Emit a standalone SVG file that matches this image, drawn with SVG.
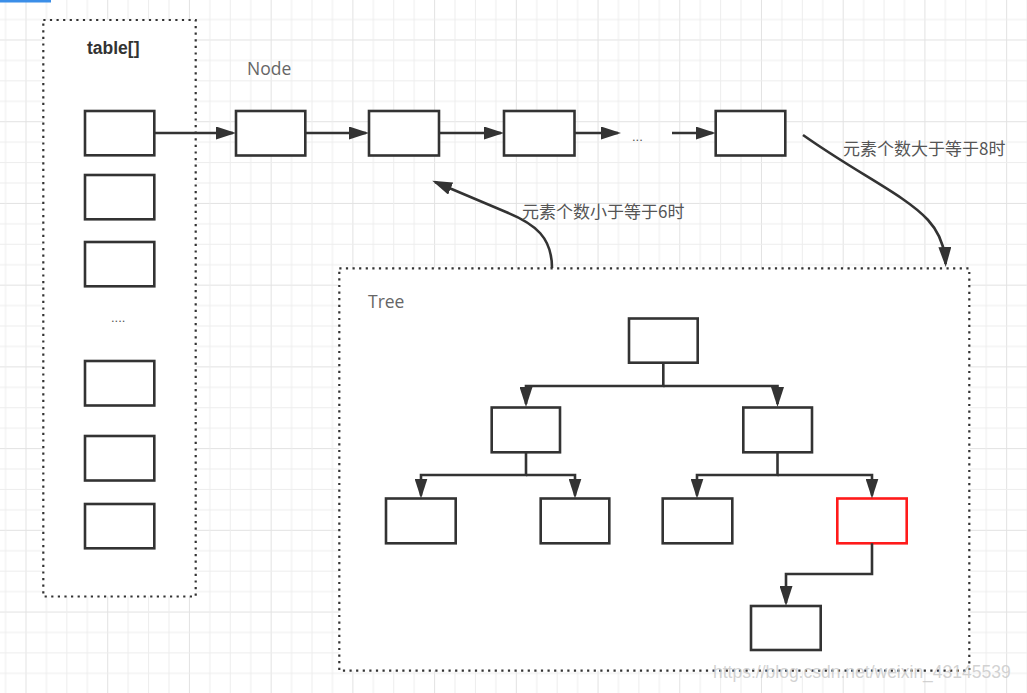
<svg xmlns="http://www.w3.org/2000/svg" width="1027" height="693" viewBox="0 0 1027 693">
  <defs>
    <pattern id="grid" patternUnits="userSpaceOnUse" x="25.5" y="39.5" width="81.72" height="81.72">
      <path d="M0.5,0 V81.72 M0,0.5 H81.72" stroke="#e2e2e2" stroke-width="1" fill="none"/>
      <path d="M20.93,0 V81.72 M41.36,0 V81.72 M61.79,0 V81.72 M0,20.93 H81.72 M0,41.36 H81.72 M0,61.79 H81.72" stroke="#ededed" stroke-width="1" fill="none"/>
    </pattern>
    <marker id="ah" markerUnits="userSpaceOnUse" markerWidth="21" markerHeight="13" refX="17" refY="6.5" orient="auto">
      <path d="M0,0 L20,6.5 L0,13 Z" fill="#333"/>
    </marker>
    <style>
      .box { fill: #fff; stroke: #333; stroke-width: 2.6; }
      .red { fill: #fff; stroke: #ff1a1a; stroke-width: 2.6; }
      .group { fill: #fff; stroke: #333; stroke-width: 2.2; stroke-dasharray: 2.2 4.4; }
      .conn { fill: none; stroke: #333; stroke-width: 2.6; marker-end: url(#ah); }
      .plain { fill: none; stroke: #333; stroke-width: 2.6; }
      .lbl { font-family: "Open Sans", "Noto Sans CJK SC", sans-serif; fill: #666; font-size: 17.5px; }
      .cjk { font-family: "Noto Sans CJK SC", sans-serif; fill: #555; font-size: 17px; }
      .dots { font-family: "Liberation Sans", sans-serif; fill: #555; font-size: 13px; }
    </style>
  </defs>

  <rect x="0" y="0" width="1027" height="693" fill="#fff"/>
  <rect x="0" y="0" width="1027" height="693" fill="url(#grid)"/>
  <rect x="0" y="0" width="51" height="2.5" fill="#3b8ee8"/>

  <g id="table-group">
    <rect class="group" x="43.3" y="20" width="152.4" height="576.5"/>
    <text x="87" y="54" font-family="Liberation Sans, sans-serif" font-weight="bold" font-size="17.5" fill="#333">table[]</text>
    <text class="dots" x="111" y="322">....</text>
  </g>
  <g id="table-0"><rect class="box" x="85" y="111" width="69.3" height="44.3"/></g>
  <g id="table-1"><rect class="box" x="85" y="175" width="69.3" height="44.3"/></g>
  <g id="table-2"><rect class="box" x="85" y="242" width="69.3" height="44.3"/></g>
  <g id="table-3"><rect class="box" x="85" y="361" width="69.3" height="44.5"/></g>
  <g id="table-4"><rect class="box" x="85" y="436" width="69.3" height="44.5"/></g>
  <g id="table-5"><rect class="box" x="85" y="504" width="69.3" height="44.3"/></g>

  <g id="node-label"><text class="lbl" x="247" y="75">Node</text></g>
  <g id="node-1"><rect class="box" x="236" y="111" width="69.3" height="44.5"/></g>
  <g id="node-2"><rect class="box" x="369" y="111" width="70" height="44.5"/></g>
  <g id="node-3"><rect class="box" x="504" y="111" width="70.5" height="44.5"/></g>
  <g id="node-ellipsis"><text class="dots" x="632" y="141">...</text></g>
  <g id="node-n"><rect class="box" x="715.7" y="111" width="69.6" height="44.5"/></g>

  <g id="tree-group">
    <rect class="group" x="339.3" y="268.3" width="630" height="402.4"/>
    <text class="lbl" x="368" y="308">Tree</text>
  </g>
  <g id="tree-root"><rect class="box" x="629" y="318.5" width="68.7" height="44.2"/></g>
  <g id="tree-l"><rect class="box" x="491.7" y="407.5" width="68.3" height="44.8"/></g>
  <g id="tree-r"><rect class="box" x="743.3" y="407.5" width="68.7" height="44.8"/></g>
  <g id="tree-ll"><rect class="box" x="386" y="498.5" width="69.7" height="44.8"/></g>
  <g id="tree-lr"><rect class="box" x="540.7" y="498.5" width="68.6" height="44.8"/></g>
  <g id="tree-rl"><rect class="box" x="662.7" y="498.5" width="69.6" height="44.8"/></g>
  <g id="tree-rr"><rect class="red" x="837.3" y="498.5" width="69.4" height="44.8"/></g>
  <g id="tree-rrl"><rect class="box" x="751" y="606" width="69.7" height="44"/></g>

  <g id="connectors">
    <path class="conn" d="M154.3,133 L233,133"/>
    <path class="conn" d="M305.3,133 L366,133"/>
    <path class="conn" d="M439,133 L501,133"/>
    <path class="conn" d="M574.5,133 L618,133"/>
    <path class="conn" d="M672,133 L712.7,133"/>

    <path class="conn" d="M552,268 C552,238 536,224 506,212 L435,182"/>
    <text class="cjk" x="522" y="218">元素个数小于等于6时</text>
    <path class="conn" d="M803,135 C858,174 905,195 928,220 Q944.5,238 945.6,264"/>
    <text class="cjk" x="843" y="155">元素个数大于等于8时</text>

    <path class="conn" d="M663.3,362.7 V386 H526 V404"/>
    <path class="conn" d="M663.3,386 H777.5 V404"/>
    <path class="conn" d="M526,452.3 V475 H421 V495.5"/>
    <path class="conn" d="M526,475 H575 V495.5"/>
    <path class="conn" d="M777.5,452.3 V475 H697 V495.5"/>
    <path class="conn" d="M777.5,475 H872 V495.5"/>
    <path class="conn" d="M872,543.3 V574 H786 V603"/>
  </g>

  <text x="713" y="678" font-family="Liberation Sans, sans-serif" font-size="17.5" fill="#c4c4c4" fill-opacity="0.75">https://blog.csdn.net/weixin_43145539</text>
</svg>
